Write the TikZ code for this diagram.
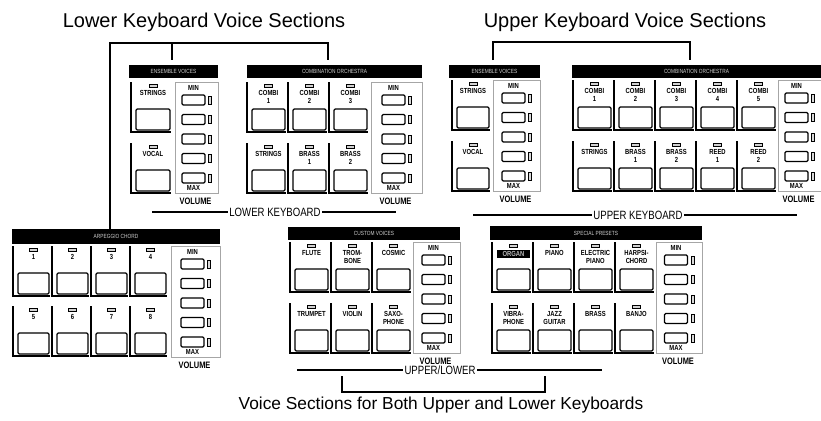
\documentclass[tikz,border=0pt]{standalone}
\usepackage{fontspec}
\setmainfont{Liberation Sans}
\newfontfamily\narrowfont[FakeStretch=0.8]{Liberation Sans}
\newcommand\vcell[6][]{%
  \draw[well] (#3,#4) -- (#3,#4+50) -- (#3+#5-2,#4+50);
  \draw[led] (#3+#5/2-3,#4+2) rectangle (#3+#5/2+5,#4+5);
  \node[btnlabel,#1] (#2) at (#3+#5/2+1,#4+8) {#6};
  \draw[btn] (#3+5,#4+27) rectangle (#3+#5-3,#4+48);
}
\newcommand\vvol[4]{%
  \draw[vbox] (#2,#4) rectangle (#3,#4+111);
  \pgfmathsetmacro\volcx{(#2+#3)/2-3}
  \node[vtxt] (#1-min) at (\volcx,#4+6) {MIN};
  \foreach \i in {0,...,4}{
    \draw[sld] (\volcx-11.5,#4+13+\i*19.5) rectangle (\volcx+11.5,#4+23+\i*19.5);
    \draw[sled] (\volcx+15,#4+14+\i*19.5) rectangle (\volcx+18,#4+22+\i*19.5);
  }
  \node[vtxt] (#1-max) at (\volcx,#4+106) {MAX};
  \node[voltxt] (#1-vol) at (\volcx+2,#4+119) {VOLUME};
}
\newcommand\vhdr[6]{%
  \fill (#2,#3) rectangle (#4,#5);
  \node[hdrtxt] (#1) at ({(#2+#4)/2},{(#3+#5)/2}) {#6};
}
\begin{document}
\begin{tikzpicture}[x=0.75pt,y=-0.75pt,
  well/.style={line width=1.5pt,line join=miter},
  led/.style={draw,line width=0.6pt,fill=gray!35},
  btn/.style={draw,line width=0.9pt,rounded corners=1pt},
  btnlabel/.style={font=\narrowfont\bfseries\fontsize{5.5}{5.8}\selectfont,inner sep=0pt,anchor=north,align=center},
  sld/.style={draw,line width=0.9pt,rounded corners=1pt},
  sled/.style={draw,line width=0.6pt,fill=gray!30},
  vbox/.style={draw=gray!70,line width=0.45pt},
  vtxt/.style={font=\narrowfont\bfseries\fontsize{5.5}{6}\selectfont,inner sep=0pt},
  voltxt/.style={font=\narrowfont\bfseries\fontsize{7}{8}\selectfont,inner sep=0pt},
  hdrtxt/.style={font=\narrowfont\fontsize{4.5}{5}\selectfont,text=gray!35,inner sep=0pt},
  kbtxt/.style={font=\narrowfont\fontsize{9}{10}\selectfont,inner sep=1pt},
  title/.style={font=\fontsize{15}{18}\selectfont},
  titleb/.style={font=\fontsize{13}{16}\selectfont},
  brk/.style={line width=1.4pt},
  kbline/.style={line width=0.8pt}]
\useasboundingbox (0,0) rectangle (821,421);

% titles
\node[title] (tLow) at (204,22) {Lower Keyboard Voice Sections};
\node[title] (tUp) at (625,22) {Upper Keyboard Voice Sections};
\node[titleb] (tBoth) at (441,405) {Voice Sections for Both Upper and Lower Keyboards};

% lower ensemble voices
\vhdr{leH}{129}{65}{218}{78}{ENSEMBLE VOICES}
\vcell{le1}{131}{82}{42}{STRINGS}
\vcell{le2}{131}{143}{42}{VOCAL}
\vvol{lev}{175}{218}{82}

% lower combination orchestra
\vhdr{lcH}{247}{65}{422}{78}{COMBINATION ORCHESTRA}
\vcell{lc1}{247}{82}{41}{COMBI\\1}
\vcell{lc2}{288}{82}{41}{COMBI\\2}
\vcell{lc3}{329}{82}{41}{COMBI\\3}
\vcell{lc4}{247}{143}{41}{STRINGS}
\vcell{lc5}{288}{143}{41}{BRASS\\1}
\vcell{lc6}{329}{143}{41}{BRASS\\2}
\vvol{lcv}{371}{422}{82}

% upper ensemble voices
\vhdr{ueH}{449}{65}{540}{78}{ENSEMBLE VOICES}
\vcell{ue1}{452}{80}{40}{STRINGS}
\vcell{ue2}{452}{141}{40}{VOCAL}
\vvol{uev}{493}{540}{80}

% upper combination orchestra
\vhdr{ucH}{572}{65}{821}{78}{COMBINATION ORCHESTRA}
\vcell{uc1}{573}{80}{41}{COMBI\\1}
\vcell{uc2}{614}{80}{41}{COMBI\\2}
\vcell{uc3}{655}{80}{41}{COMBI\\3}
\vcell{uc4}{696}{80}{41}{COMBI\\4}
\vcell{uc5}{737}{80}{41}{COMBI\\5}
\vcell{uc6}{573}{141}{41}{STRINGS}
\vcell{uc7}{614}{141}{41}{BRASS\\1}
\vcell{uc8}{655}{141}{41}{BRASS\\2}
\vcell{uc9}{696}{141}{41}{REED\\1}
\vcell{uc10}{737}{141}{41}{REED\\2}
\vvol{ucv}{778}{821}{80}

% arpeggio chord
\vhdr{acH}{12}{229}{220}{244}{ARPEGGIO CHORD}
\vcell{ac1}{13}{246}{39}{1}
\vcell{ac2}{52}{246}{39}{2}
\vcell{ac3}{91}{246}{39}{3}
\vcell{ac4}{130}{246}{39}{4}
\vcell{ac5}{13}{306}{39}{5}
\vcell{ac6}{52}{306}{39}{6}
\vcell{ac7}{91}{306}{39}{7}
\vcell{ac8}{130}{306}{39}{8}
\vvol{acv}{171}{220}{246}

% custom voices
\vhdr{cvH}{288}{227}{460}{240}{CUSTOM VOICES}
\vcell{cv1}{290}{242}{41}{FLUTE}
\vcell{cv2}{331}{242}{41}{TROM-\\BONE}
\vcell{cv3}{372}{242}{41}{COSMIC}
\vcell{cv4}{290}{303}{41}{TRUMPET}
\vcell{cv5}{331}{303}{41}{VIOLIN}
\vcell{cv6}{372}{303}{41}{SAXO-\\PHONE}
\vvol{cvv}{413}{460}{242}

% special presets
\vhdr{spH}{490}{226}{702}{240}{SPECIAL PRESETS}
\vcell[fill=black,text=gray!55,minimum width=25pt,minimum height=6pt]{sp1}{492}{242}{41}{ORGAN}
\vcell{sp2}{533}{242}{41}{PIANO}
\vcell{sp3}{574}{242}{41}{ELECTRIC\\PIANO}
\vcell{sp4}{615}{242}{41}{HARPSI-\\CHORD}
\vcell{sp5}{492}{303}{41}{VIBRA-\\PHONE}
\vcell{sp6}{533}{303}{41}{JAZZ\\GUITAR}
\vcell{sp7}{574}{303}{41}{BRASS}
\vcell{sp8}{615}{303}{41}{BANJO}
\vvol{spv}{656}{702}{242}

% keyboard labels
\node[kbtxt] (lkb) at (275,212) {LOWER KEYBOARD};
\coordinate (lkbL) at (152,212); \coordinate (lkbR) at (396,212);
\draw[kbline] (lkbL) -- (lkb.west); \draw[kbline] (lkb.east) -- (lkbR);
\node[kbtxt] (ukb) at (638,215) {UPPER KEYBOARD};
\coordinate (ukbL) at (473,215); \coordinate (ukbR) at (797,215);
\draw[kbline] (ukbL) -- (ukb.west); \draw[kbline] (ukb.east) -- (ukbR);
\node[kbtxt] (ulkb) at (440,370) {UPPER/LOWER};
\coordinate (ulkbL) at (297,370); \coordinate (ulkbR) at (602,370);
\draw[kbline] (ulkbL) -- (ulkb.west); \draw[kbline] (ulkb.east) -- (ulkbR);

% brackets
\coordinate (lb1) at (110,43); \coordinate (lb2) at (328,43); \coordinate (lbm) at (172,43);
\coordinate (acTop) at (110,229); \coordinate (lcTop) at (328,60); \coordinate (leTop) at (172,60);
\draw[brk] (acTop) -- (lb1) -- (lb2) -- (lcTop);
\draw[brk] (lbm) -- (leTop);
\coordinate (ub1) at (493,42); \coordinate (ub2) at (690,42);
\coordinate (ueTop) at (493,60); \coordinate (ucTop) at (690,60);
\draw[brk] (ueTop) -- (ub1) -- (ub2) -- (ucTop);
\coordinate (bb1) at (342,376); \coordinate (bb2) at (342,392);
\coordinate (bb3) at (545,392); \coordinate (bb4) at (545,376);
\draw[brk] (bb1) -- (bb2) -- (bb3) -- (bb4);
\end{tikzpicture}
\end{document}
